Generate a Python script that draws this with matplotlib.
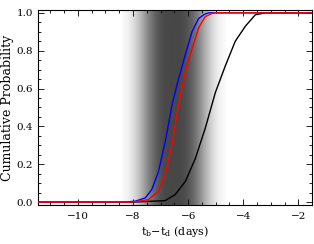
import numpy as np
import matplotlib
matplotlib.use('Agg')
from matplotlib import pyplot as plt
from matplotlib.ticker import MultipleLocator

plt.rcParams['font.family'] = 'DejaVu Serif'
plt.rcParams['mathtext.fontset'] = 'dejavuserif'

# cumulative curves
blue_x = [-11.5, -8.3, -7.92, -7.56, -7.32, -7.08, -6.83, -6.59, -6.35, -6.10, -5.86, -5.62, -5.40, -5.26, -1.5]
blue_y = [0, 0, 0.005, 0.022, 0.066, 0.16, 0.32, 0.51, 0.65, 0.78, 0.90, 0.97, 0.993, 1.0, 1.0]

red_x = [-11.5, -8.2, -7.92, -7.44, -7.08, -6.83, -6.59, -6.35, -6.10, -5.86, -5.62, -5.38, -5.15, -5.01, -1.5]
red_y = [0, 0, 0.002, 0.013, 0.057, 0.145, 0.30, 0.51, 0.69, 0.81, 0.92, 0.98, 0.996, 1.0, 1.0]

black_x = [-11.5, -8.0, -7.56, -6.83, -6.47, -6.10, -5.74, -5.38, -5.01, -4.65, -4.29, -3.92, -3.56, -3.20, -1.5]
black_y = [0, 0, 0.003, 0.008, 0.04, 0.11, 0.23, 0.39, 0.58, 0.72, 0.85, 0.93, 0.99, 1.0, 1.0]

# shaded band
band_center = -6.54
band_width = 1.22
band_lo, band_hi = -8.40, -4.65

fig = plt.figure(figsize=(3.14, 2.44), dpi=100)
ax = fig.add_axes([0.121, 0.160, 0.873, 0.799])

bx = np.linspace(band_lo, band_hi, 400)
shade = 1 - 0.72 * np.exp(-np.abs((bx - band_center) / band_width) ** 3)
ax.imshow(shade[np.newaxis, :], cmap='gray', vmin=0, vmax=1, aspect='auto',
          extent=[band_lo, band_hi, -0.02, 1.02], interpolation='bilinear', zorder=0)

ax.plot(black_x, black_y, color='black', lw=1.0, zorder=2)
ax.plot(blue_x, blue_y, color='#0000ff', lw=1.0, zorder=3)
ax.plot(red_x, red_y, color='#ff0000', lw=1.0, zorder=4)

ax.set_xlim(-11.45, -1.5)
ax.set_ylim(-0.015, 1.015)

ax.xaxis.set_major_locator(MultipleLocator(2))
ax.xaxis.set_minor_locator(MultipleLocator(0.5))
ax.yaxis.set_major_locator(MultipleLocator(0.2))
ax.yaxis.set_minor_locator(MultipleLocator(0.05))
ax.tick_params(which='both', direction='in', top=True, right=True, labelsize=7.5, width=0.6)
ax.tick_params(which='major', length=4)
ax.tick_params(which='minor', length=2)
ax.tick_params(axis='x', pad=5)
ax.yaxis.set_major_formatter(plt.FormatStrFormatter('%.1f'))
for s in ax.spines.values():
    s.set_linewidth(0.8)

ax.set_ylabel('Cumulative Probability', fontsize=9, labelpad=2)
ax.set_xlabel(r'$\mathrm{t_b}$$-$$\mathrm{t_d}$ (days)', fontsize=8, labelpad=2)

fig.savefig('out.png', dpi=100)
